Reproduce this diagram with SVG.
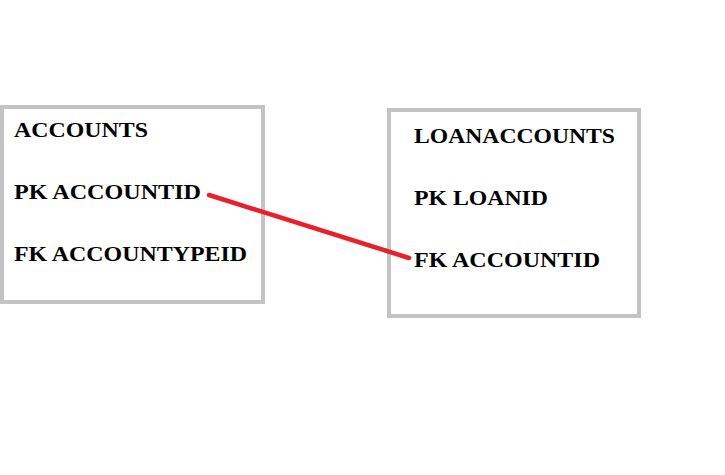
<svg xmlns="http://www.w3.org/2000/svg" width="725" height="475" viewBox="0 0 725 475">
<style>
.box{fill:#fff;stroke:#c3c3c3;stroke-width:4}
.t{font-family:"Liberation Serif","Times New Roman",serif;font-weight:bold;font-size:22px;fill:#000}
.link{stroke:#e8202a;stroke-width:4.5;stroke-linecap:round;fill:none}
</style>
<rect width="725" height="475" fill="#fff"/>
<g id="accounts">
<rect class="box" x="2" y="107" width="261" height="195"/>
<text class="t" x="14" y="137" textLength="134" lengthAdjust="spacingAndGlyphs">ACCOUNTS</text>
<text class="t" x="14" y="199" textLength="187" lengthAdjust="spacingAndGlyphs">PK ACCOUNTID</text>
<text class="t" x="14" y="261" textLength="233" lengthAdjust="spacingAndGlyphs">FK ACCOUNTYPEID</text>
</g>
<g id="loanaccounts">
<rect class="box" x="389" y="110" width="250" height="206"/>
<text class="t" x="414" y="143" textLength="201" lengthAdjust="spacingAndGlyphs">LOANACCOUNTS</text>
<text class="t" x="414" y="205" textLength="134" lengthAdjust="spacingAndGlyphs">PK LOANID</text>
<text class="t" x="414" y="267" textLength="186" lengthAdjust="spacingAndGlyphs">FK ACCOUNTID</text>
</g>
<g id="connectors">
<line class="link" x1="209" y1="195" x2="409" y2="258"/>
</g>
</svg>
